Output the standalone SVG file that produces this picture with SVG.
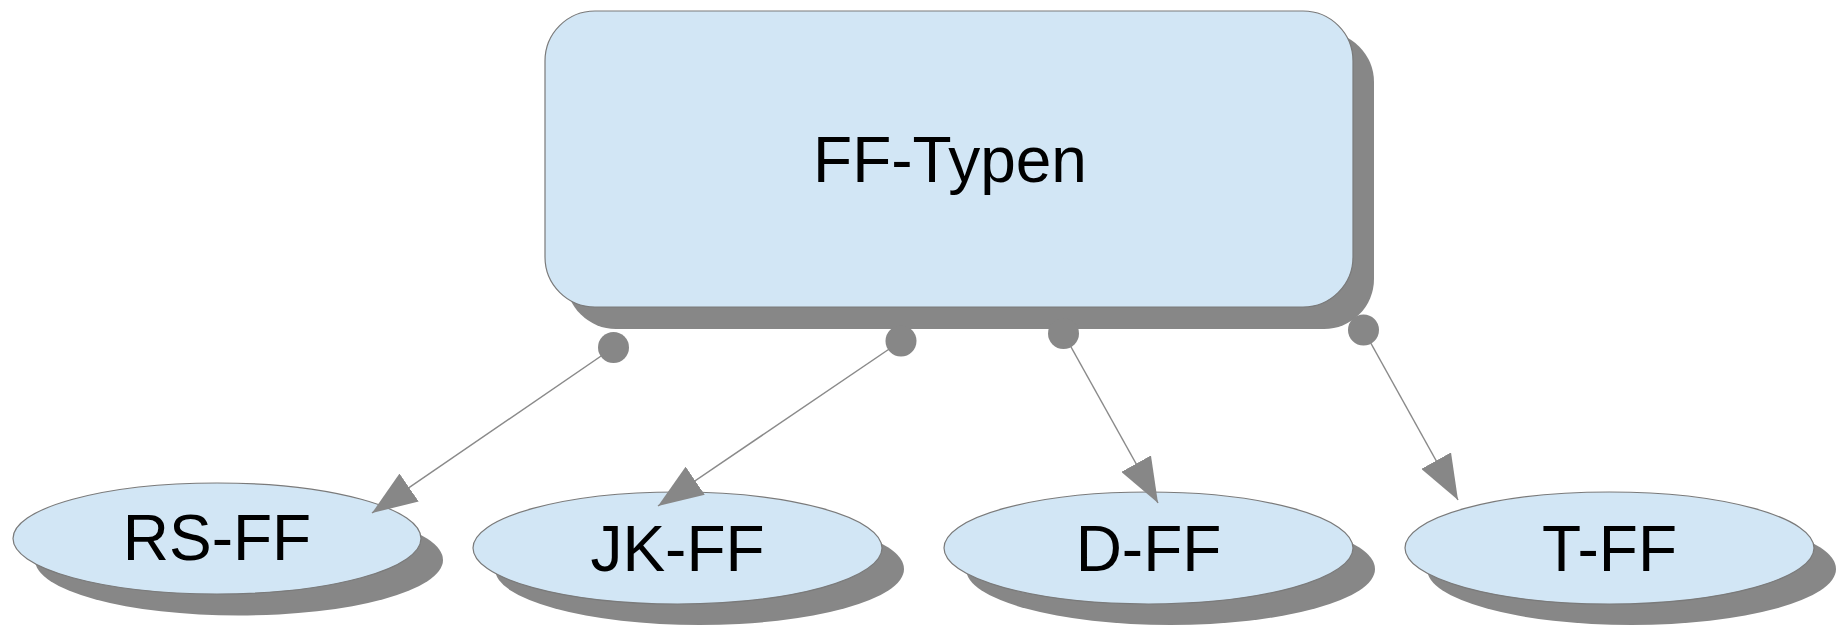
<svg xmlns="http://www.w3.org/2000/svg" width="1841" height="625" viewBox="0 0 1841 625">
  <style>
    .shadow { fill: #878787; }
    .shape { fill: #d2e6f5; stroke: #7a7a7a; stroke-width: 1.2; }
    .label { font-family: "Liberation Sans", Arial, sans-serif; font-size: 64px; fill: #000; text-anchor: middle; }
    .link { stroke: #8a8a8a; stroke-width: 1.5; fill: none; marker-end: url(#arrow); }
    .dot { fill: #878787; }
  </style>
  <defs>
    <marker id="arrow" viewBox="0 0 45 34" refX="45" refY="17" markerWidth="45" markerHeight="34" markerUnits="userSpaceOnUse" orient="auto">
      <path d="M0,0 L45,17 L0,34 Z" fill="#878787"/>
    </marker>
  </defs>

  <rect width="1841" height="625" fill="#ffffff"/>

  <!-- root node -->
  <g id="ff-typen">
    <rect class="shadow" x="566" y="32" width="808" height="297" rx="50" ry="50"/>
    <rect class="shape" x="545" y="11" width="808" height="296" rx="50" ry="50"/>
    <text class="label" x="950" y="182">FF-Typen</text>
  </g>

  <!-- child nodes -->
  <g id="rs-ff">
    <ellipse class="shadow" cx="239" cy="560" rx="204" ry="55.5"/>
    <ellipse class="shape" cx="217" cy="538.5" rx="204" ry="55.5"/>
    <text class="label" x="217" y="560">RS-FF</text>
  </g>
  <g id="jk-ff">
    <ellipse class="shadow" cx="699.5" cy="569" rx="204.5" ry="56"/>
    <ellipse class="shape" cx="677.5" cy="548" rx="204.5" ry="56"/>
    <text class="label" x="677.5" y="571">JK-FF</text>
  </g>
  <g id="d-ff">
    <ellipse class="shadow" cx="1170.5" cy="569" rx="204.5" ry="56"/>
    <ellipse class="shape" cx="1148.5" cy="548" rx="204.5" ry="56"/>
    <text class="label" x="1148.5" y="571">D-FF</text>
  </g>
  <g id="t-ff">
    <ellipse class="shadow" cx="1631.5" cy="569" rx="204.5" ry="56"/>
    <ellipse class="shape" cx="1609.5" cy="548" rx="204.5" ry="56"/>
    <text class="label" x="1609.5" y="571">T-FF</text>
  </g>

  <!-- connectors -->
  <g id="connectors">
    <line class="link" x1="613.5" y1="347.5" x2="372" y2="513"/>
    <circle class="dot" cx="613.5" cy="347.5" r="15.5"/>
    <line class="link" x1="901" y1="341" x2="658" y2="506"/>
    <circle class="dot" cx="901" cy="341" r="15.5"/>
    <line class="link" x1="1063.5" y1="333.5" x2="1158" y2="503"/>
    <circle class="dot" cx="1063.5" cy="333.5" r="15.5"/>
    <line class="link" x1="1363.5" y1="330" x2="1458" y2="500"/>
    <circle class="dot" cx="1363.5" cy="330" r="15.5"/>
  </g>
</svg>
